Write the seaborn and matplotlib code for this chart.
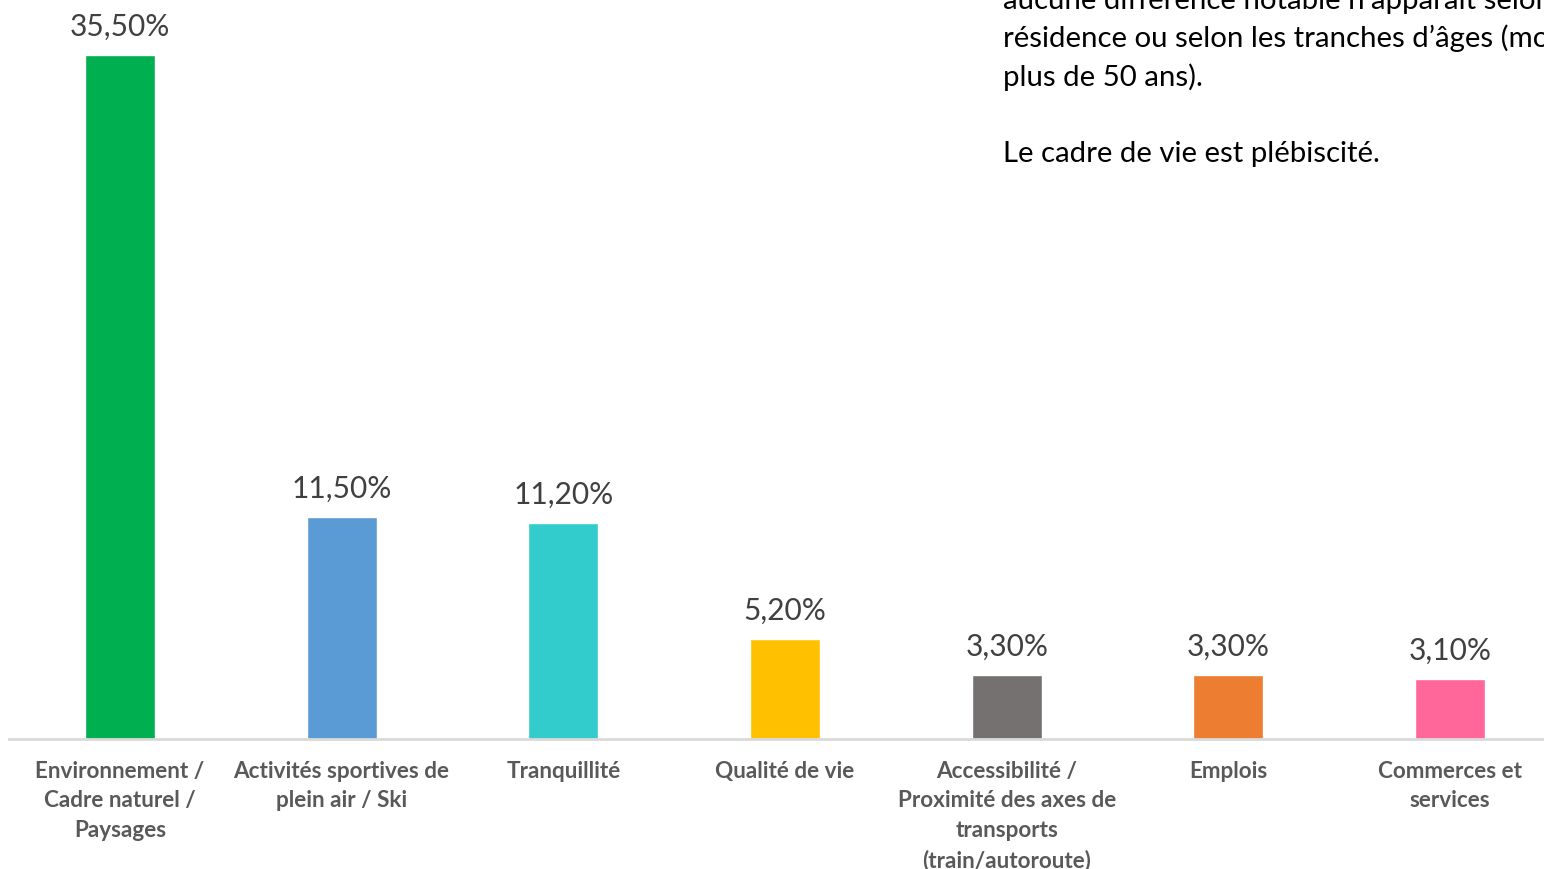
import matplotlib
matplotlib.use("Agg")
import matplotlib.pyplot as plt
import seaborn as sns
import pandas as pd

# Reasons for choosing the territory (share of answers, %)
categories = [
    "Environnement /\nCadre naturel /\nPaysages",
    "Activités sportives de\nplein air / Ski",
    "Tranquillité",
    "Qualité de vie",
    "Accessibilité /\nProximité des axes de\ntransports\n(train/autoroute)",
    "Emplois",
    "Commerces et\nservices",
]
values = [35.5, 11.5, 11.2, 5.2, 3.3, 3.3, 3.1]
colors = ["#00B050", "#5B9BD5", "#33CCCC", "#FFC000", "#767171", "#ED7D31", "#FF6699"]

comment_lines = [
    "aucune différence notable n’apparaît selon",
    "résidence ou selon les tranches d’âges (moins",
    "plus de 50 ans).",
    "",
    "Le cadre de vie est plébiscité.",
]

sns.set_theme(style="white")
plt.rcParams["font.family"] = ["Lato", "DejaVu Sans"]

df = pd.DataFrame({"cat": categories, "val": values})

fig = plt.figure(figsize=(15.44, 8.70), dpi=100)
ax = fig.add_axes([9 / 1544, 130 / 870, 1552 / 1544, 740 / 870])

sns.barplot(data=df, x="cat", y="val", hue="cat", palette=colors,
            width=0.316, legend=False, ax=ax, saturation=1)

ax.set_ylim(0, 38.4)
ax.set_xlim(-0.5, len(categories) - 0.5)
ax.set_xlabel("")
ax.set_ylabel("")
ax.set_yticks([])
for side in ["top", "right", "left"]:
    ax.spines[side].set_visible(False)
ax.spines["bottom"].set_color("#D9D9D9")
ax.spines["bottom"].set_linewidth(2)

ax.tick_params(axis="x", length=0, pad=15)
ax.set_xticks(range(len(categories)))
ax.set_xticklabels(categories, fontsize=16.2, fontweight="bold", color="#595959",
                   linespacing=1.5, va="top")

for i, v in enumerate(values):
    ax.annotate(f"{v:.2f}%".replace(".", ","), xy=(i, v), xytext=(0, 11),
                textcoords="offset points", ha="center", va="bottom",
                fontsize=21.5, color="#404040")

for k, line in enumerate(comment_lines):
    if line:
        fig.text(1003 / 1544, 1 - (0 + 38.6 * k) / 870, line, ha="left", va="center",
                 fontsize=21.2, color="#000000")

fig.savefig("out.png", dpi=100)
